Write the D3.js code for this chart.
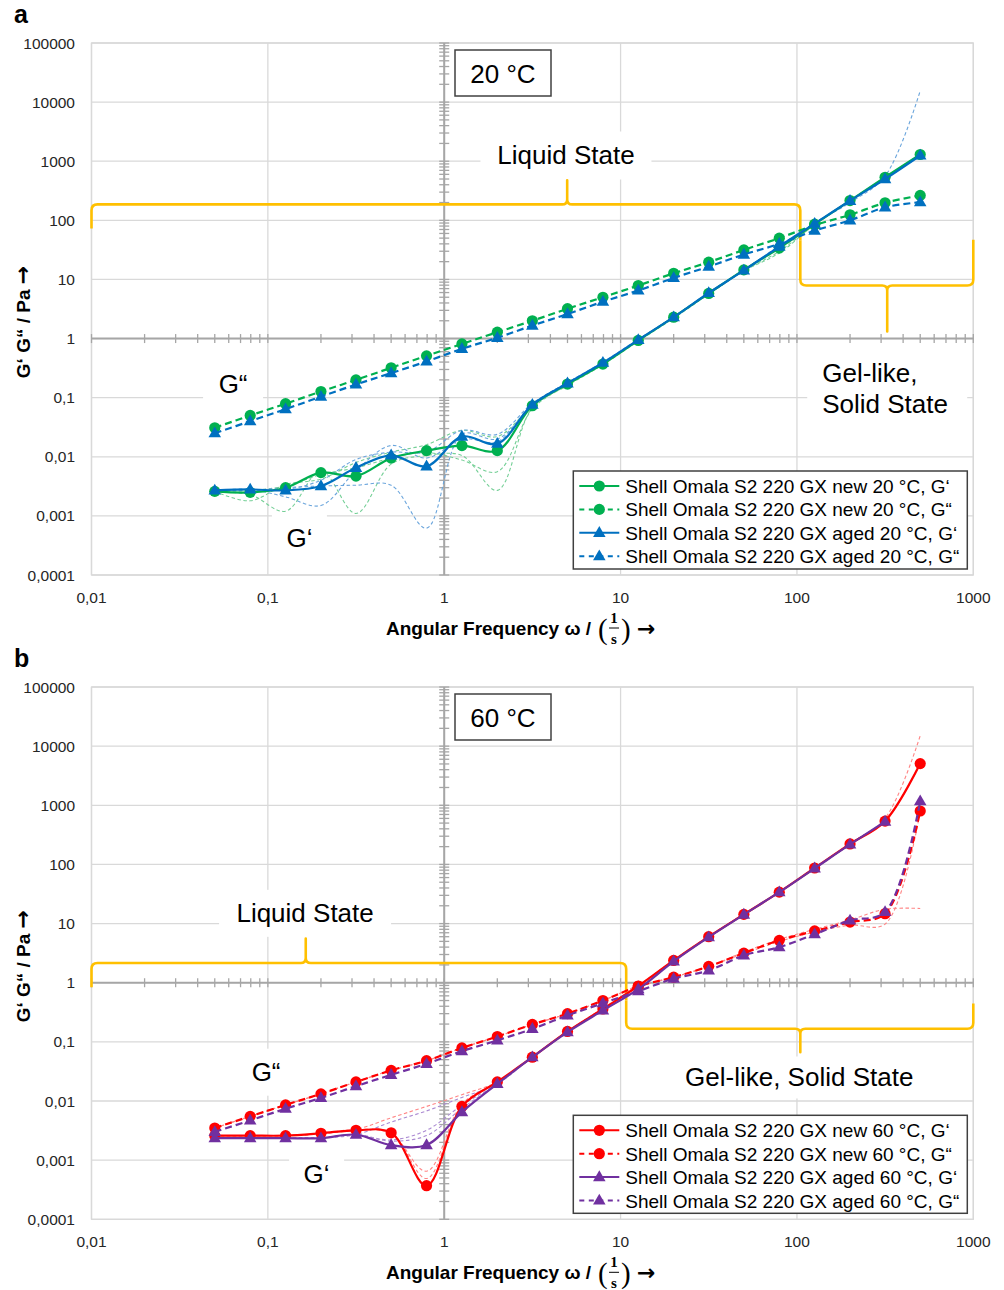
<!DOCTYPE html>
<html>
<head>
<meta charset="utf-8">
<script src="https://cdn.jsdelivr.net/npm/d3@7"></script>
<style>
body { margin: 0; background: #fff; }
svg { display: block; font-family: "Liberation Sans", Arial, sans-serif; }
</style>
</head>
<body>
<svg id="chart" width="1004" height="1290"></svg>
<script>
// angular frequency points (1/s)
const freq = [0.05, 0.0794, 0.126, 0.2, 0.316, 0.5, 0.794, 1.26, 2, 3.16, 5, 7.94, 12.6, 20, 31.6, 50, 79.4, 126, 200, 316, 500];
const xDomain = [0.01, 1000];
const yDomain = [0.0001, 100000];

// panel a, 20 °C (G' = storage, G'' = loss modulus, Pa)
const newG1_20 = [0.0026, 0.0025, 0.0030, 0.0054, 0.0047, 0.0095, 0.0127, 0.0155, 0.0127, 0.073, 0.17, 0.37, 0.93, 2.3, 5.8, 14.5, 34, 86, 216, 535, 1300];
const newG2_20 = [0.031, 0.050, 0.079, 0.127, 0.20, 0.32, 0.51, 0.81, 1.28, 2.0, 3.2, 5.0, 7.9, 12.7, 19.6, 31.6, 50, 83, 124, 198, 264];
const agedG1_20 = [0.0027, 0.0028, 0.0027, 0.0032, 0.0065, 0.0106, 0.0069, 0.022, 0.0167, 0.076, 0.175, 0.39, 0.95, 2.3, 5.9, 14.2, 36, 88, 214, 500, 1250];
const agedG2_20 = [0.025, 0.040, 0.064, 0.104, 0.167, 0.26, 0.41, 0.67, 1.03, 1.66, 2.6, 4.2, 6.5, 10.6, 16.5, 26.4, 40, 67, 100, 166, 203];
// single measurements (thin dashed)
const newG1_20_r1 = [0.0025, 0.0023, 0.0012, 0.0058, 0.0011, 0.0075, 0.0105, 0.0105, 0.0027, 0.068, 0.16, 0.36, 0.9, 2.2, 5.6, 14, 30, 84, 214, 530, 1300];
const newG1_20_r2 = [0.0026, 0.0018, 0.0034, 0.0042, 0.008, 0.012, 0.016, 0.028, 0.022, 0.072, 0.17, 0.38, 0.95, 2.3, 5.8, 14.5, 33, 86, 216, 535, 1300];
const newG1_20_r3 = [0.0027, 0.0027, 0.0032, 0.005, 0.0065, 0.0095, 0.0118, 0.0088, 0.0056, 0.064, 0.165, 0.37, 0.93, 2.3, 5.7, 14, 28, 85, 215, 535, 1300];
const agedG1_20_r1 = [0.0027, 0.0028, 0.0021, 0.0015, 0.0058, 0.0155, 0.0095, 0.02, 0.018, 0.078, 0.18, 0.39, 0.95, 2.3, 5.9, 14.2, 36, 88, 214, 500, 1250];
const agedG1_20_r2 = [0.0026, 0.0027, 0.003, 0.0032, 0.0033, 0.0033, 0.00062, 0.024, 0.02, 0.072, 0.17, 0.38, 0.95, 2.3, 5.9, 14.2, 36, 88, 214, 500, 1250];
const agedG1_20_r3 = [0.0027, 0.0028, 0.0028, 0.004, 0.009, 0.012, 0.012, 0.028, 0.024, 0.08, 0.18, 0.4, 0.97, 2.35, 6, 14.5, 37, 90, 200, 560, 15500];

// panel b, 60 °C
const newG1_60 = [0.0026, 0.0026, 0.0026, 0.00285, 0.0032, 0.0029, 0.00037, 0.0081, 0.021, 0.055, 0.15, 0.36, 0.88, 2.38, 6.0, 14.3, 34, 87, 222, 540, 5070];
const newG2_60 = [0.0035, 0.0055, 0.0086, 0.0132, 0.021, 0.033, 0.048, 0.079, 0.123, 0.197, 0.30, 0.50, 0.87, 1.24, 1.89, 3.17, 5.2, 7.5, 10.6, 14.7, 800];
const agedG1_60 = [0.00235, 0.00235, 0.00235, 0.00235, 0.0027, 0.0018, 0.0018, 0.0065, 0.0195, 0.055, 0.146, 0.34, 0.78, 2.3, 5.9, 14.2, 34, 86, 218, 530, null];
const agedG2_60 = [0.0030, 0.0047, 0.0074, 0.0113, 0.0178, 0.0277, 0.0426, 0.0697, 0.106, 0.166, 0.28, 0.45, 0.72, 1.17, 1.61, 2.9, 4.0, 6.6, 11.3, 15.7, 1170];
const newG1_60_r1 = [0.0026, 0.0026, 0.0026, 0.0028, 0.0033, 0.0052, 0.0081, 0.0128, 0.021, 0.056, 0.15, 0.37, 0.9, 2.4, 6.1, 14.5, 34, 87, 225, 600, 15000];
const newG1_60_r2 = [0.0026, 0.0026, 0.0026, 0.0028, 0.0033, 0.0028, 0.00065, 0.0088, 0.021, 0.055, 0.15, 0.36, 0.88, 2.38, 6.0, 14.3, 34, 87, 222, 540, 5070];
const newG1_60_r3 = [0.0026, 0.0026, 0.0026, 0.0028, 0.0032, 0.0029, 0.00049, 0.0084, 0.021, 0.055, 0.15, 0.36, 0.88, 2.38, 6.0, 14.3, 34, 87, 222, 540, 5070];
const agedG1_60_r1 = [0.00235, 0.00235, 0.00235, 0.0024, 0.0027, 0.0044, 0.0068, 0.0115, 0.0195, 0.056, 0.15, 0.35, 0.8, 2.3, 5.9, 14.2, 34, 86, 218, 530, null];
const agedG1_60_r2 = [0.00235, 0.00235, 0.00235, 0.0024, 0.0027, 0.0022, 0.0032, 0.0085, 0.0195, 0.055, 0.146, 0.34, 0.78, 2.3, 5.9, 14.2, 34, 86, 218, 530, null];
const agedG1_60_r3 = [0.00235, 0.00235, 0.00235, 0.0024, 0.0027, 0.0021, 0.0026, 0.0075, 0.0195, 0.055, 0.146, 0.34, 0.78, 2.3, 5.9, 14.2, 34, 86, 218, 530, null];
const newG2_60_r1 = [0.0035, 0.0055, 0.0086, 0.0132, 0.021, 0.033, 0.048, 0.079, 0.123, 0.197, 0.30, 0.50, 0.87, 1.24, 1.89, 3.3, 5.4, 8.0, 11.5, 17.5, 18];
const newG2_60_r2 = [0.0035, 0.0055, 0.0086, 0.0132, 0.021, 0.033, 0.048, 0.079, 0.123, 0.197, 0.30, 0.50, 0.87, 1.24, 1.89, 3.1, 5.0, 7.2, 9.4, 9.8, 800];

const legend20 = ["Shell Omala S2 220 GX new 20 °C, G‘", "Shell Omala S2 220 GX new 20 °C, G“",
                  "Shell Omala S2 220 GX aged 20 °C, G‘", "Shell Omala S2 220 GX aged 20 °C, G“"];
const legend60 = ["Shell Omala S2 220 GX new 60 °C, G‘", "Shell Omala S2 220 GX new 60 °C, G“",
                  "Shell Omala S2 220 GX aged 60 °C, G‘", "Shell Omala S2 220 GX aged 60 °C, G“"];

const svg = d3.select("#chart");
const plotLeft = 91.5, plotRight = 973.3;
const gridCol = "#d9d9d9", axisCol = "#a6a6a6", textCol = "#262626", braceCol = "#FFC000";
const arrowFont = "'DejaVu Sans', sans-serif";

const panels = [
    {
        letter: "a", top: 43, bottom: 575, temp: "20 °C", legend: legend20,
        colors: ["#00B050", "#0070C0"], thin: ["#74cf96", "#6aa5dc"],
        main: [newG1_20, newG2_20, agedG1_20, agedG2_20],
        reps: [[newG1_20_r1, 0], [newG1_20_r2, 0], [newG1_20_r3, 0], [agedG1_20_r1, 1], [agedG1_20_r2, 1], [agedG1_20_r3, 1]],
        braces: [
            { x0: 0.01, x1: 104.5, level: 186, tip: 4.98, tipY: 475, end0: 73, end1: 45 },
            { x0: 104.5, x1: 1000, level: 7.9, tip: 325, tipY: 1.32, end0: 45, end1: 47 }
        ],
        notes: [
            { lines: ["Liquid State"], x: 4.9, y: 1250, w: 171, h: 48 },
            { lines: ["G“"], x: 0.0635, y: 0.173, w: 60, h: 45 },
            { lines: ["G‘"], x: 0.151, y: 0.00043, w: 55, h: 48 },
            { lines: ["Gel-like,", "Solid State"], x: 325, y: 0.145, w: 160, h: 76, left: 15 }
        ]
    },
    {
        letter: "b", top: 687, bottom: 1219.3, temp: "60 °C", legend: legend60,
        colors: ["#FF0000", "#7030A0"], thin: ["#ff8585", "#ab8ad2"],
        main: [newG1_60, newG2_60, agedG1_60, agedG2_60],
        reps: [[newG1_60_r1, 0], [newG1_60_r2, 0], [newG1_60_r3, 0], [newG2_60_r1, 0], [newG2_60_r2, 0],
               [agedG1_60_r1, 1], [agedG1_60_r2, 1], [agedG1_60_r3, 1]],
        braces: [
            { x0: 0.01, x1: 10.76, level: 2.15, tip: 0.164, tipY: 5.6, end0: 0.84, end1: 0.5 },
            { x0: 10.76, x1: 1000, level: 0.167, tip: 104.5, tipY: 0.067, end0: 0.5, end1: 0.447 }
        ],
        notes: [
            { lines: ["Liquid State"], x: 0.1626, y: 14.9, w: 172, h: 47 },
            { lines: ["G“"], x: 0.0977, y: 0.0307, w: 57, h: 47 },
            { lines: ["G‘"], x: 0.189, y: 0.00059, w: 55, h: 47 },
            { lines: ["Gel-like, Solid State"], x: 103, y: 0.025, w: 262, h: 42 }
        ]
    }
];

const isDecade = t => Math.abs(Math.log10(t) - Math.round(Math.log10(t))) < 1e-6;
const fmt = t => d3.format("~g")(t).replace(".", ",");

function bracePath(x, y, b) {
    const X0 = x(b.x0), X1 = x(b.x1), XT = x(b.tip);
    const YL = y(b.level), YT = y(b.tipY), E0 = y(b.end0), E1 = y(b.end1);
    const r = 6, rt = 5;
    const s0 = Math.sign(E0 - YL), s1 = Math.sign(E1 - YL), st = Math.sign(YT - YL);
    return `M${X0},${E0} L${X0},${YL + s0 * r} Q${X0},${YL} ${X0 + r},${YL}` +
        ` L${XT - rt},${YL} Q${XT},${YL} ${XT},${YL + st * rt} L${XT},${YT}` +
        ` L${XT},${YL + st * rt} Q${XT},${YL} ${XT + rt},${YL}` +
        ` L${X1 - r},${YL} Q${X1},${YL} ${X1},${YL + s1 * r} L${X1},${E1}`;
}

function drawMarker(sel, type, color, cx, cy) {
    if (type === 0) {
        sel.append("circle").attr("cx", cx).attr("cy", cy).attr("r", 5.6).attr("fill", color);
    } else {
        sel.append("path").attr("d", d3.symbol(d3.symbolTriangle, 68)())
            .attr("transform", `translate(${cx},${cy + 0.5})`).attr("fill", color);
    }
}

function drawPanel(p) {
    const x = d3.scaleLog().domain(xDomain).range([plotLeft, plotRight]);
    const y = d3.scaleLog().domain(yDomain).range([p.bottom, p.top]);
    const g = svg.append("g");

    g.append("rect").attr("x", plotLeft).attr("y", p.top)
        .attr("width", plotRight - plotLeft).attr("height", p.bottom - p.top)
        .attr("fill", "#fff").attr("stroke", gridCol).attr("stroke-width", 1.3);

    // major gridlines
    const xMajor = x.ticks().filter(isDecade), yMajor = y.ticks().filter(isDecade);
    g.selectAll(null).data(xMajor).join("line")
        .attr("x1", d => x(d)).attr("x2", d => x(d)).attr("y1", p.top).attr("y2", p.bottom)
        .attr("stroke", gridCol).attr("stroke-width", 1.3);
    g.selectAll(null).data(yMajor).join("line")
        .attr("x1", plotLeft).attr("x2", plotRight).attr("y1", d => y(d)).attr("y2", d => y(d))
        .attr("stroke", gridCol).attr("stroke-width", 1.3);

    // text annotations with white boxes
    p.notes.forEach(n => {
        const cx = x(n.x), cy = y(n.y);
        g.append("rect").attr("x", cx - n.w / 2).attr("y", cy - n.h / 2)
            .attr("width", n.w).attr("height", n.h).attr("fill", "#fff");
        const t = g.append("text").attr("font-size", 26).attr("fill", "#000")
            .attr("text-anchor", n.left ? "start" : "middle");
        n.lines.forEach((line, i) => {
            t.append("tspan")
                .attr("x", n.left ? cx - n.w / 2 + n.left : cx)
                .attr("y", cy + (i - (n.lines.length - 1) / 2) * 31 + 9)
                .text(line);
        });
    });

    // axes crossing at 1 / 1
    const ax = g.append("g");
    const y1 = y(1), x1 = x(1);
    ax.append("line").attr("x1", plotLeft).attr("x2", plotRight).attr("y1", y1).attr("y2", y1)
        .attr("stroke", axisCol).attr("stroke-width", 2);
    ax.selectAll(null).data(x.ticks()).join("line")
        .attr("x1", d => x(d)).attr("x2", d => x(d)).attr("y1", y1 - 4.5).attr("y2", y1 + 4.5)
        .attr("stroke", axisCol).attr("stroke-width", 1.3);
    ax.append("line").attr("x1", x1).attr("x2", x1).attr("y1", p.top).attr("y2", p.bottom)
        .attr("stroke", axisCol).attr("stroke-width", 2);
    ax.selectAll(null).data(y.ticks()).join("line")
        .attr("x1", x1 - 5).attr("x2", x1 + 5).attr("y1", d => y(d)).attr("y2", d => y(d))
        .attr("stroke", axisCol).attr("stroke-width", 1.3);

    // braces
    p.braces.forEach(b => {
        g.append("path").attr("d", bracePath(x, y, b)).attr("fill", "none")
            .attr("stroke", braceCol).attr("stroke-width", 2.6).attr("stroke-linejoin", "round");
    });

    const line = d3.line()
        .defined(d => d[1] != null)
        .x(d => x(d[0])).y(d => y(d[1]))
        .curve(d3.curveCatmullRom.alpha(0.5));

    // single measurements
    p.reps.forEach(([vals, c]) => {
        g.append("path").attr("d", line(freq.map((f, i) => [f, vals[i]])))
            .attr("fill", "none").attr("stroke", p.thin[c]).attr("stroke-width", 1.1)
            .attr("stroke-dasharray", "3.5,2.5");
    });

    // mean curves with markers
    p.main.forEach((vals, k) => {
        const color = p.colors[k < 2 ? 0 : 1];
        const pts = freq.map((f, i) => [f, vals[i]]);
        g.append("path").attr("d", line(pts)).attr("fill", "none")
            .attr("stroke", color).attr("stroke-width", 2.2)
            .attr("stroke-dasharray", k % 2 ? "7,4" : null);
        pts.filter(d => d[1] != null).forEach(d => drawMarker(g, k < 2 ? 0 : 1, color, x(d[0]), y(d[1])));
    });

    // temperature box
    g.append("rect").attr("x", 455).attr("y", p.top + 7).attr("width", 96).attr("height", 46)
        .attr("fill", "#fff").attr("stroke", "#404040").attr("stroke-width", 1.5);
    g.append("text").attr("x", 503).attr("y", p.top + 39.5).attr("text-anchor", "middle")
        .attr("font-size", 26).attr("fill", "#000").text(p.temp);

    // legend
    const lw = 394, lh = 98;
    const lx = plotRight - 6 - lw, ly = p.bottom - 6 - lh;
    const lg = g.append("g");
    lg.append("rect").attr("x", lx).attr("y", ly).attr("width", lw).attr("height", lh)
        .attr("fill", "#fff").attr("stroke", "#404040").attr("stroke-width", 1.5);
    p.legend.forEach((label, k) => {
        const cy = ly + 15 + k * 23.4;
        const color = p.colors[k < 2 ? 0 : 1];
        lg.append("line").attr("x1", lx + 6).attr("x2", lx + 46).attr("y1", cy).attr("y2", cy)
            .attr("stroke", color).attr("stroke-width", 2)
            .attr("stroke-dasharray", k % 2 ? "5,4.5" : null);
        drawMarker(lg, k < 2 ? 0 : 1, color, lx + 26, cy);
        lg.append("text").attr("x", lx + 52).attr("y", cy + 7).attr("font-size", 19)
            .attr("fill", "#000").text(label);
    });

    // tick labels
    g.selectAll(null).data(xMajor).join("text")
        .attr("x", d => x(d)).attr("y", p.bottom + 27.5).attr("text-anchor", "middle")
        .attr("font-size", 15.5).attr("fill", textCol).text(fmt);
    g.selectAll(null).data(yMajor).join("text")
        .attr("x", 75).attr("y", d => y(d) + 5.5).attr("text-anchor", "end")
        .attr("font-size", 15.5).attr("fill", textCol).text(fmt);

    // axis titles
    const tb = p.bottom + 60;
    const xt = g.append("text").attr("x", 386).attr("y", tb).attr("font-size", 19)
        .attr("font-weight", "bold").attr("fill", "#000").text("Angular Frequency ω /");
    const px = 386 + xt.node().getComputedTextLength() + 7;
    const serif = "'Liberation Serif', 'DejaVu Serif', serif";
    g.append("text").attr("x", px).attr("y", tb + 4).attr("font-size", 29).attr("font-family", serif)
        .attr("fill", "#000").text("(");
    g.append("text").attr("x", px + 16).attr("y", tb - 12).attr("font-size", 15).attr("font-family", serif)
        .attr("font-weight", "bold").attr("text-anchor", "middle").attr("fill", "#000").text("1");
    g.append("line").attr("x1", px + 11).attr("x2", px + 21).attr("y1", tb - 7).attr("y2", tb - 7)
        .attr("stroke", "#000").attr("stroke-width", 1);
    g.append("text").attr("x", px + 16).attr("y", tb + 9).attr("font-size", 15).attr("font-family", serif)
        .attr("font-weight", "bold").attr("text-anchor", "middle").attr("fill", "#000").text("s");
    g.append("text").attr("x", px + 23).attr("y", tb + 4).attr("font-size", 29).attr("font-family", serif)
        .attr("fill", "#000").text(")");
    g.append("text").attr("x", px + 39).attr("y", tb + 1).attr("font-size", 22).attr("font-weight", "bold")
        .attr("font-family", arrowFont).attr("fill", "#000").text("→");

    const ymid = (p.top + p.bottom) / 2 + 13;
    const yt = g.append("text").attr("transform", `translate(30,${ymid}) rotate(-90)`)
        .attr("text-anchor", "middle").attr("font-size", 19).attr("font-weight", "bold")
        .attr("fill", "#000");
    yt.append("tspan").text("G‘ G“ / Pa ");
    yt.append("tspan").attr("font-family", arrowFont).attr("font-size", 22).text("→");

    g.append("text").attr("x", 14).attr("y", p.top - 20).attr("font-size", 25)
        .attr("font-weight", "bold").attr("fill", "#000").text(p.letter);
}

panels.forEach(drawPanel);
</script>
</body>
</html>
